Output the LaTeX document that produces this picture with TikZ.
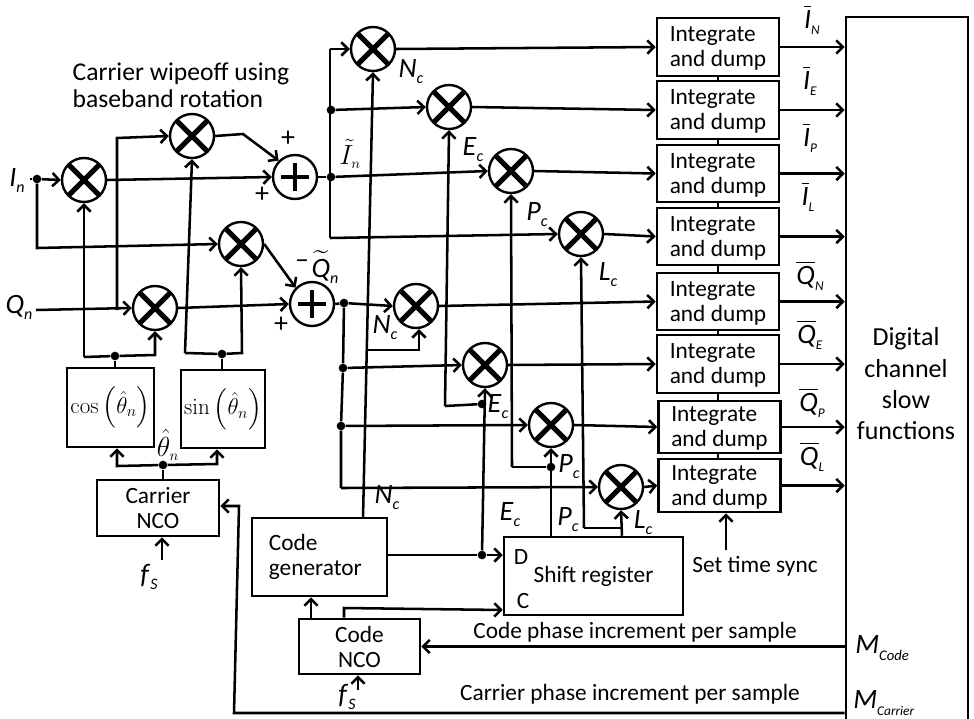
\documentclass[tikz,border=0pt]{standalone}
\usepackage[no-math]{fontspec}
\usepackage{amsmath}
\setmainfont{Carlito}
\usetikzlibrary{arrows.meta,positioning}
\newcommand{\lblsub}[2]{\textit{#1}\raisebox{-.45ex}{\fontsize{12}{12}\selectfont\textit{#2}}}
\newcommand{\lblbar}[2]{$\overline{\mbox{\itshape #1}}$\raisebox{-.45ex}{\fontsize{10}{10}\selectfont\textit{#2}}}
\tikzset{
  every node/.style={font=\fontsize{17.5}{18.75}\selectfont},
  conn/.style={line width=1.9pt,-{Straight Barb[length=5pt,width=10pt]}},
  wire/.style={line width=1.9pt},
  blockbox/.style={draw,line width=1.9pt,inner sep=0pt,align=center},
  ibox/.style={blockbox,align=left,minimum width=91.5pt,text depth=0pt},
  mixer/.style={circle,draw,line width=1.8pt,inner sep=0pt,minimum size=33pt,
    path picture={\draw[line width=3.8pt]
      (path picture bounding box.north west)--(path picture bounding box.south east)
      (path picture bounding box.south west)--(path picture bounding box.north east);}},
  summer/.style={circle,draw,line width=1.8pt,inner sep=0pt,minimum size=33pt,
    path picture={\draw[line width=2.4pt]
      ([xshift=-10.5pt]path picture bounding box.center)--([xshift=10.5pt]path picture bounding box.center)
      ([yshift=-10.5pt]path picture bounding box.center)--([yshift=10.5pt]path picture bounding box.center);}},
  junc/.style={circle,fill,inner sep=0pt,minimum size=6.5pt},
  lbl/.style={font=\fontsize{21}{21}\selectfont,inner sep=0pt},
}
\begin{document}
\begin{tikzpicture}[x=.75pt,y=-.75pt]
\useasboundingbox (0,0) rectangle (974,718);
\clip (0,0) rectangle (974,718);
% mixers
\node[mixer] (mA) at (84,180) {};
\node[mixer] (mB) at (192,136) {};
\node[mixer] (mC) at (241,244) {};
\node[mixer] (mD) at (155,308) {};
\node[summer] (sumI) at (295,177) {};
\node[summer] (sumQ) at (312,304) {};
\node[mixer] (mIN) at (373,49) {};
\node[mixer] (mIE) at (449,107) {};
\node[mixer] (mIP) at (511,171) {};
\node[mixer] (mIL) at (581,234) {};
\node[mixer] (mQN) at (416,306) {};
\node[mixer] (mQE) at (485,365) {};
\node[mixer] (mQP) at (551,425) {};
\node[mixer] (mQL) at (621,487) {};
% blocks
\node[ibox,minimum height=43.5pt] (bIN) at (718,47) {Integrate\\and dump};
\node[ibox,minimum height=43.5pt] (bIE) at (718,110) {Integrate\\and dump};
\node[ibox,minimum height=43pt] (bIP) at (718,173.5) {Integrate\\and dump};
\node[ibox,minimum height=43pt] (bIL) at (718,236.5) {Integrate\\and dump};
\node[ibox,minimum height=43pt] (bQN) at (718,301.5) {Integrate\\and dump};
\node[ibox,minimum height=43.5pt] (bQE) at (718,364) {Integrate\\and dump};
\node[ibox,minimum height=39pt] (bQP) at (719.5,427) {Integrate\\and dump};
\node[ibox,minimum height=39.75pt] (bQL) at (719.5,485.5) {Integrate\\and dump};
\node[blockbox,minimum width=91.5pt,minimum height=534.75pt] (slow) at (907,373.5) {};
\node[align=center,font=\fontsize{19.5}{23.5}\selectfont] (slowtxt) at (906,384) {Digital\\channel\\slow\\functions};
\node[blockbox,minimum width=65.25pt,minimum height=59.25pt] (cosb) at (110.5,407.5) {$\cos\left(\hat{\theta}_{n}\right)$};
\node[blockbox,minimum width=63pt,minimum height=58.5pt] (sinb) at (223,409) {$\sin\left(\hat{\theta}_{n}\right)$};
\node[blockbox,minimum width=91.5pt,minimum height=42pt] (cnco) at (158,508) {Carrier\\NCO};
\node[blockbox,minimum width=101.25pt,minimum height=58.5pt,align=left,text width=76pt] (cgen) at (319.5,557) {Code\\generator};
\node[blockbox,minimum width=90.75pt,minimum height=41.25pt] (kco) at (359.5,646.5) {Code\\NCO};
\node[blockbox,minimum width=134.25pt,minimum height=58.5pt] (sreg) at (593.5,576) {Shift register};
\node (dpin) at (521,557) {D};
\node (cpin) at (523,601) {C};
% junctions
\node[junc] (jI) at (37,179) {};
\node[junc] (jcos) at (115,356) {};
\node[junc] (jsin) at (222,354) {};
\node[junc] (jth) at (163,465) {};
\node[junc] (jIa) at (331,110) {};
\node[junc] (jIb) at (331,177) {};
\node[junc] (jQa) at (344,303) {};
\node[junc] (jQb) at (343,368) {};
\node[junc] (jQc) at (341,426) {};
\node[junc] (jE) at (482,404) {};
\node[junc] (jP) at (551,467) {};
\node[junc] (jD) at (482,555) {};
% free ends and bends
\coordinate (inI) at (30,179);
\coordinate (inQ) at (36,310);
\coordinate (cA) at (37,248);
\coordinate (cB) at (117,310);
\coordinate (cC) at (117,138);
\coordinate (cD) at (84,357);
\coordinate (cE) at (155,355);
\coordinate (cF) at (185,353);
\coordinate (cG) at (242,353);
\coordinate (cH) at (243,134);
\coordinate (cI) at (330,49);
\coordinate (cJ) at (330,238);
\coordinate (cK) at (363,518);
\coordinate (cL) at (368,350);
\coordinate (cM) at (419,350);
\coordinate (cN) at (445,406);
\coordinate (cO) at (512,467);
\coordinate (cP) at (584,528);
\coordinate (cQ) at (622,528);
\coordinate (cR) at (341,488);
\coordinate (cS) at (117,466);
\coordinate (cT) at (217,464);
\coordinate (cU) at (234,713);
\coordinate (cV) at (239,506);
\coordinate (cW) at (344,608);
\coordinate (fsA) at (162,560);
\coordinate (fsB) at (358,690);
\coordinate (syncA) at (726,550);
% carrier wipeoff
\draw[wire] (inI)--(jI);
\draw[conn] (jI)--(mA.west);
\draw[conn] (jI)--(cA)--(mC.west);
\draw[conn] (mA.east)--(sumI.west);
\draw[conn] (inQ)--(mD.west);
\draw[conn] (cB)--(cC)--(mB.west);
\draw[conn] (cD)--(mA.south);
\draw[wire] (cD)--(jcos);
\draw[conn] (jcos)--(cE)--(mD.south);
\draw[conn] (cF)--(mB.south);
\draw[wire] (cF)--(jsin);
\draw[conn] (jsin)--(cG)--(mC.south);
\draw[wire] (jcos)--(cosb.north -| jcos);
\draw[wire] (jsin)--(sinb.north -| jsin);
\draw[conn] (mB.east)--(cH)--(sumI.north west);
\draw[conn] (mC.east)--(sumQ.north west);
\draw[conn] (mD.east)--(sumQ.west);
% I branch
\draw[wire] (sumI.east)--(jIb);
\draw[conn] (jIb)--(mIP.west);
\draw[wire] (cI)--(cJ);
\draw[conn] (cI)--(mIN.west);
\draw[conn] (jIa)--(mIE.west);
\draw[conn] (cJ)--(mIL.west);
% Q branch
\draw[wire] (sumQ.east)--(jQa);
\draw[conn] (jQa)--(mQN.west);
\draw[wire] (jQa)--(jQb)--(jQc)--(cR);
\draw[conn] (jQb)--(mQE.west);
\draw[conn] (jQc)--(mQP.west);
\draw[conn] (cR)--(mQL.west);
% code lines
\draw[conn] (cK)--(mIN.south);
\draw[conn] (cL)--(cM)--(mQN.south -| cM);
\draw[conn] (cN)--(mIE.south);
\draw[wire] (cN)--(jE);
\draw[conn] (jD)--(mQE.south);
\draw[conn] (cO)--(mIP.south);
\draw[wire] (cO)--(jP);
\draw[conn] (sreg.north -| jP)--(mQP.south);
\draw[conn] (cP)--(mIL.south);
\draw[wire] (cP)--(cQ);
\draw[conn] (sreg.north -| cQ)--(mQL.south);
\draw[wire] (cgen.east |- jD)--(jD);
\draw[conn] (jD)--(sreg.west |- jD);
\draw[conn] (kco.north -| 311,0)--(cgen.south -| 311,0);
\draw[conn] (kco.north -| cW)--(cW)--(sreg.west |- 0,610);
% mixers to integrators
\draw[conn] (mIN.east)--(bIN.west);
\draw[conn] (mIE.east)--(bIE.west);
\draw[conn] (mIP.east)--(bIP.west);
\draw[conn] (mIL.east)--(bIL.west);
\draw[conn] (mQN.east)--(bQN.west);
\draw[conn] (mQE.east)--(bQE.west);
\draw[conn] (mQP.east)--(bQP.west);
\draw[conn] (mQL.east)--(bQL.west);
% integrators to channel functions
\draw[conn] (bIN.east)--(bIN.east -| slow.west);
\draw[conn] (bIE.east)--(bIE.east -| slow.west);
\draw[conn] (bIP.east)--(bIP.east -| slow.west);
\draw[conn] (bIL.east)--(bIL.east -| slow.west);
\draw[conn] (bQN.east)--(bQN.east -| slow.west);
\draw[conn] (bQE.east)--(bQE.east -| slow.west);
\draw[conn] (bQP.east)--(bQP.east -| slow.west);
\draw[conn] (bQL.east)--(bQL.east -| slow.west);
\draw[wire] (bIN.south)--(bIE.north);
\draw[wire] (bIE.south)--(bIP.north);
\draw[wire] (bIP.south)--(bIL.north);
\draw[wire] (bIL.south)--(bQN.north);
\draw[wire] (bQN.south)--(bQE.north);
\draw[wire] (bQE.south)--(bQP.north -| bQE);
\draw[wire] (bQP.south -| bQE)--(bQL.north -| bQE);
% NCO
\draw[wire] (cnco.north -| jth)--(jth);
\draw[conn] (jth)--(cS)--(cosb.south -| cS);
\draw[conn] (jth)--(cT)--(sinb.south -| cT);
\draw[conn] (fsA)--(cnco.south -| fsA);
\draw[conn] (fsB)--(kco.south -| fsB);
\draw[conn] (syncA)--(bQL.south -| syncA);
\draw[conn] (slow.west |- kco.east)--(kco.east);
\draw[conn] (slow.west |- cU)--(cU)--(cV)--(cnco.east |- cV);
% text
\node[anchor=west,align=left,font=\fontsize{19.2}{20}\selectfont] (wipeoff) at (68,85) {Carrier wipeoff using\\baseband rotation};
\node (codeinc) at (635,632) {Code phase increment per sample};
\node (carrinc) at (630,694) {Carrier phase increment per sample};
\node (synctxt) at (755,566) {Set time sync};
\node[lbl] (lIn) at (17,181) {\lblsub{I}{n}};
\node[lbl] (lQn) at (19,307) {\lblsub{Q}{n}};
\node[lbl] (lplusA) at (288,139) {+};
\node[lbl] (lplusB) at (262,195) {+};
\node[lbl] (lminus) at (302,264) {–};
\node[lbl] (lplusC) at (281,325) {+};
\node[lbl] (lIt) at (350,154) {$\tilde{I}_{\scriptscriptstyle n}$};
\node[lbl] (lQt) at (325,267) {$\widetilde{\mbox{\itshape Q}}$\raisebox{-.45ex}{\fontsize{12}{12}\selectfont\textit{n}}};
\node[lbl] (lth) at (168,445) {$\hat{\theta}_{\scriptscriptstyle n}$};
\node[lbl] (lfA) at (149,577) {\lblsub{f}{S}};
\node[lbl] (lfB) at (347,697) {\lblsub{f}{S}};
\node[lbl] (lNa) at (411,72) {\lblsub{N}{c}};
\node[lbl] (lEa) at (473,150) {\lblsub{E}{c}};
\node[lbl] (lPa) at (537,215) {\lblsub{P}{c}};
\node[lbl] (lLa) at (608,275) {\lblsub{L}{c}};
\node[lbl] (lNb) at (385,328) {\lblsub{N}{c}};
\node[lbl] (lEb) at (498,407) {\lblsub{E}{c}};
\node[lbl] (lPb) at (569,467) {\lblsub{P}{c}};
\node[lbl] (lLb) at (643,523) {\lblsub{L}{c}};
\node[lbl] (lNc) at (387,498) {\lblsub{N}{c}};
\node[lbl] (lEc) at (510,515) {\lblsub{E}{c}};
\node[lbl] (lPc) at (568,520) {\lblsub{P}{c}};
\node[lbl] (lIN) at (812,20) {\lblbar{I}{N}};
\node[lbl] (lIE) at (810,81) {\lblbar{I}{E}};
\node[lbl] (lIP) at (810,138) {\lblbar{I}{P}};
\node[lbl] (lIL) at (808,197) {\lblbar{I}{L}};
\node[lbl] (lQN) at (810,276) {\lblbar{Q}{N}};
\node[lbl] (lQE) at (810,335) {\lblbar{Q}{E}};
\node[lbl] (lQP) at (812,403) {\lblbar{Q}{P}};
\node[lbl] (lQL) at (812,457) {\lblbar{Q}{L}};
\node[lbl,anchor=west] (lMa) at (855,648) {\textit{M}\raisebox{-.5ex}{\fontsize{11}{11}\selectfont\textit{Code}}};
\node[lbl,anchor=west] (lMb) at (853,703) {\textit{M}\raisebox{-.5ex}{\fontsize{10}{10}\selectfont\textit{Carrier}}};
\end{tikzpicture}
\end{document}
